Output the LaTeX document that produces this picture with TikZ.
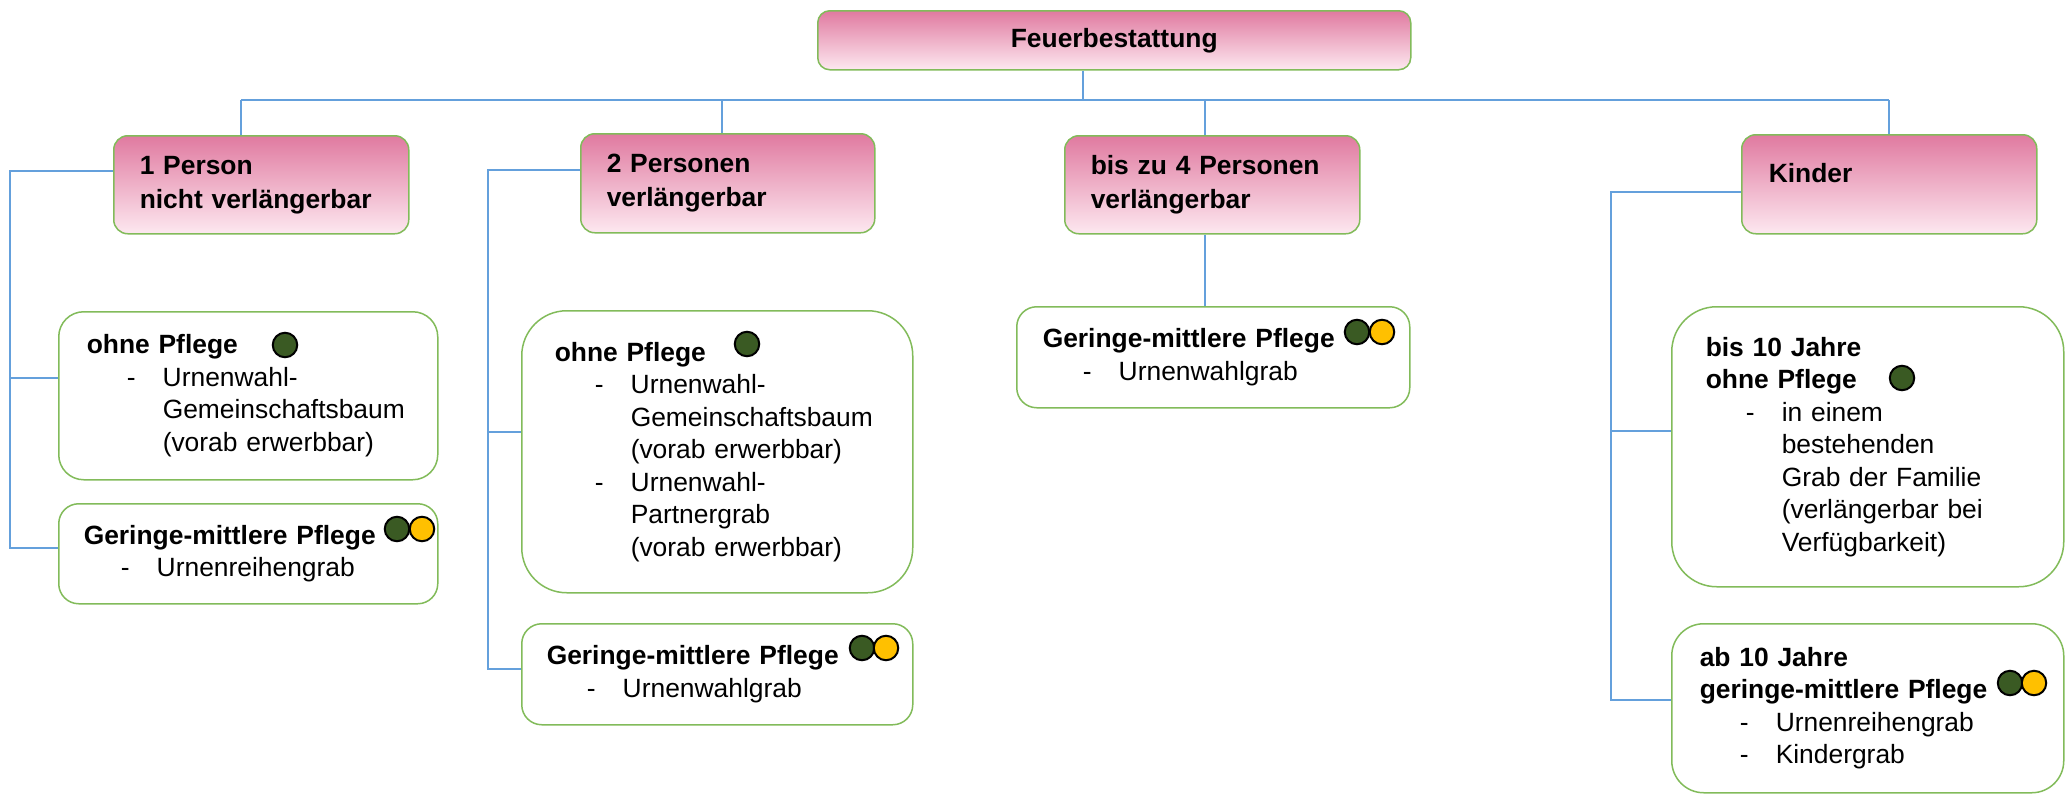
\documentclass[tikz,border=0pt]{standalone}
\usepackage{fontspec}
\setmainfont{Liberation Sans}
\definecolor{hdtop}{RGB}{224,122,160}
\definecolor{hdmid}{RGB}{234,160,188}
\definecolor{hdbot}{RGB}{253,232,240}
\definecolor{boxline}{RGB}{130,187,90}
\definecolor{linkblue}{RGB}{100,160,220}
\definecolor{dkgreen}{RGB}{58,90,35}
\definecolor{amber}{RGB}{255,192,0}
\newcommand{\listdash}{\hspace*{40pt}\makebox[36pt][l]{-}}
\newcommand{\listgap}{\hspace*{76pt}}
\begin{document}
\begin{tikzpicture}[x=1pt,y=-1pt,
    head/.style={draw=boxline,line width=1.5pt,top color=hdtop,middle color=hdmid,bottom color=hdbot,
      rounded corners=14pt,anchor=north west,inner ysep=0pt,align=left,
      font=\fontsize{26.4}{34}\selectfont\bfseries},
    card/.style={draw=boxline,line width=1.5pt,fill=white,anchor=north west,
      inner ysep=0pt,align=left,font=\fontsize{26.4}{32.5}\selectfont},
    conn/.style={draw=linkblue,line width=1.5pt},
    ampel/.style={circle,draw=black,line width=2pt,minimum size=24.5pt,inner sep=0pt}]
  \path[use as bounding box,fill=white] (0,0) rectangle (2067,793);
  % top
  \node[head,inner xsep=0pt,text width=593pt,align=center,minimum height=59pt,
    rounded corners=12pt] (top) at (817,10) {Feuerbestattung};
  % headers
  \node[head,inner xsep=26pt,text width=243pt,minimum height=98pt] (h1) at (113,135)
    {1 Person\\nicht verlängerbar};
  \node[head,inner xsep=26pt,text width=242pt,minimum height=99pt] (h2) at (580,133)
    {2 Personen\\verlängerbar};
  \node[head,inner xsep=26pt,text width=243pt,minimum height=98pt] (h3) at (1064,135)
    {bis zu 4 Personen\\verlängerbar};
  \node[head,inner xsep=27pt,text width=241pt,minimum height=99pt] (h4) at (1741,134)
    {Kinder\\[-12pt]\mbox{}};
  %% 1 Person
  \node[card,inner xsep=28pt,text width=323pt,minimum height=168pt,rounded corners=25pt]
    (b1a) at (58,311) {\textbf{ohne Pflege}\\
    \listdash Urnenwahl-\\
    \listgap Gemeinschaftsbaum\\
    \listgap (vorab erwerbbar)};
  \node[card,inner xsep=25pt,text width=329pt,minimum height=100pt,rounded corners=20pt]
    (b1b) at (58,503) {\textbf{Geringe-mittlere Pflege}\\
    \hspace*{-3pt}\listdash Urnenreihengrab};
  %% 2 Personen
  \node[card,inner xsep=33pt,text width=325pt,minimum height=282pt,rounded corners=45pt]
    (b2a) at (521,310) {\textbf{ohne Pflege}\\
    \listdash Urnenwahl-\\
    \listgap Gemeinschaftsbaum\\
    \listgap (vorab erwerbbar)\\
    \listdash Urnenwahl-\\
    \listgap Partnergrab\\
    \listgap (vorab erwerbbar)};
  \node[card,inner xsep=25pt,text width=341pt,minimum height=101pt,rounded corners=20pt]
    (b2b) at (521,623) {\textbf{Geringe-mittlere Pflege}\\
    \listdash Urnenwahlgrab};
  %% bis zu 4 Personen
  \node[card,inner xsep=26pt,text width=341pt,minimum height=101pt,rounded corners=20pt]
    (b3a) at (1016,306) {\textbf{Geringe-mittlere Pflege}\\
    \listdash Urnenwahlgrab};
  %% Kinder
  \node[card,inner xsep=34pt,text width=324pt,minimum height=280pt,rounded corners=45pt]
    (b4a) at (1671,306) {\textbf{bis 10 Jahre}\\
    \textbf{ohne Pflege}\\
    \listdash in einem\\
    \listgap bestehenden\\
    \listgap Grab der Familie\\
    \listgap (verlängerbar bei\\
    \listgap Verfügbarkeit)};
  \node[card,inner xsep=28pt,text width=336pt,minimum height=169pt,rounded corners=32pt]
    (b4b) at (1671,623) {\textbf{ab 10 Jahre}\\
    \textbf{geringe-mittlere Pflege}\\
    \listdash Urnenreihengrab\\
    \listdash Kindergrab};
  % lights
  \node[ampel,fill=dkgreen] (g1a) at (285,345) {};
  \node[ampel,fill=dkgreen] (g1b) at (397,529) {};
  \node[ampel,fill=amber] (y1b) at (422,529) {};
  \node[ampel,fill=dkgreen] (g2a) at (747,344) {};
  \node[ampel,fill=dkgreen] (g2b) at (862,648) {};
  \node[ampel,fill=amber] (y2b) at (886,648) {};
  \node[ampel,fill=dkgreen] (g3a) at (1357,332) {};
  \node[ampel,fill=amber] (y3a) at (1382,332) {};
  \node[ampel,fill=dkgreen] (g4a) at (1902,378) {};
  \node[ampel,fill=dkgreen] (g4b) at (2010,683) {};
  \node[ampel,fill=amber] (y4b) at (2034,683) {};
  % connectors
  \coordinate (hub) at (1083,100);
  \coordinate (d1) at (241,100);
  \coordinate (d2) at (722,100);
  \coordinate (d3) at (1205,100);
  \coordinate (d4) at (1889,100);
  \draw[conn] (top.south -| hub) -- (hub);
  \draw[conn] (d1) -- (d4);
  \draw[conn] (d1) -- (d1 |- h1.north);
  \draw[conn] (d2) -- (d2 |- h2.north);
  \draw[conn] (d3) -- (d3 |- h3.north);
  \draw[conn] (d4) -- (d4 |- h4.north);
  \draw[conn] (d3 |- h3.south) -- (d3 |- b3a.north);
  %%
  \coordinate (k1) at (10,171);
  \draw[conn] (h1.west |- k1) -- (k1) |- (b1b.west |- 0,548);
  \draw[conn] (k1 |- 0,378) -- (b1a.west |- 0,378);
  \coordinate (k2) at (488,170);
  \draw[conn] (h2.west |- k2) -- (k2) |- (b2b.west |- 0,669);
  \draw[conn] (k2 |- 0,432) -- (b2a.west |- 0,432);
  \coordinate (k4) at (1611,192);
  \draw[conn] (h4.west |- k4) -- (k4) |- (b4b.west |- 0,700);
  \draw[conn] (k4 |- 0,431) -- (b4a.west |- 0,431);
\end{tikzpicture}
\end{document}
